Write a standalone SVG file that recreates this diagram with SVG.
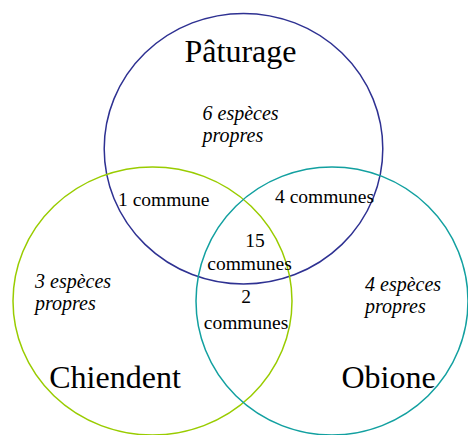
<svg xmlns="http://www.w3.org/2000/svg" width="468" height="435" viewBox="0 0 468 435">
<style>
.c{fill:none;stroke-width:1.5}
.t{font-family:"Liberation Serif","Times New Roman",serif;fill:#000}
.big{font-size:32px;text-anchor:middle}
.reg{font-size:19.5px}
.mid{text-anchor:middle}
.it{font-size:20px;font-style:italic}
</style>
<rect width="468" height="435" fill="#fff"/>
<g id="paturage">
<ellipse class="c" cx="243.5" cy="148.7" rx="139.3" ry="135.3" stroke="#2e3192"/>
<text class="t big" x="240.5" y="62">Pâturage</text>
<text class="t it" x="202.5" y="120">6 espèces</text>
<text class="t it" x="202.5" y="142">propres</text>
</g>
<g id="chiendent">
<ellipse class="c" cx="152.5" cy="301" rx="139.5" ry="134" stroke="#99cc00"/>
<text class="t big" x="115" y="388">Chiendent</text>
<text class="t it" x="35" y="288">3 espèces</text>
<text class="t it" x="35" y="310">propres</text>
</g>
<g id="obione">
<ellipse class="c" cx="332" cy="301" rx="136" ry="134" stroke="#12a0a0"/>
<text class="t big" x="388.5" y="388">Obione</text>
<text class="t it" x="365" y="291">4 espèces</text>
<text class="t it" x="365" y="313">propres</text>
</g>
<g id="intersections">
<text class="t reg" x="118" y="206">1 commune</text>
<text class="t reg" x="275" y="203">4 communes</text>
<text class="t reg mid" x="255" y="247">15</text>
<text class="t reg mid" x="249.5" y="270">communes</text>
<text class="t reg mid" x="246" y="303">2</text>
<text class="t reg mid" x="246" y="329">communes</text>
</g>
<g id="connectors"/>
</svg>
